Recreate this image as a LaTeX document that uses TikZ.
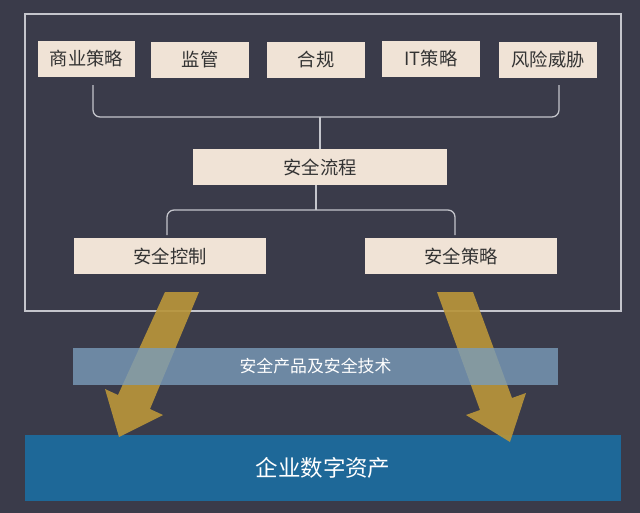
\documentclass[tikz,border=0pt]{standalone}
\usepackage{fontspec}
\setmainfont{Noto Sans CJK SC}
\usetikzlibrary{positioning}
\definecolor{fondo}{HTML}{3A3B4A}
\definecolor{marco}{HTML}{C4C5CC}
\definecolor{caja}{HTML}{F0E3D6}
\definecolor{oro}{HTML}{B8953A}
\definecolor{banda}{HTML}{7A9CBA}
\definecolor{azul}{HTML}{1E6898}
\tikzset{
  tbox/.style={fill=caja, text=black!80, font=\fontsize{13}{15}\selectfont, inner sep=0pt, minimum height=36*0.025cm},
  llave/.style={marco, line width=0.9pt, rounded corners=5pt},
  flecha/.style={fill=oro, opacity=0.92}
}
\begin{document}
\begin{tikzpicture}[x=0.025cm, y=-0.025cm]
        % Fondo y marco
        \fill[fondo] (0,0) rectangle (640,513);
        \useasboundingbox (0,0) rectangle (640,513);
        \draw[marco, line width=1pt] (25,14) rectangle (621,311);
        % Fila superior
        \node[tbox, minimum width=97*0.025cm] (neg) at (86.5,59) {商业策略};
        \node[tbox, minimum width=98*0.025cm] (reg) at (200,60) {监管};
        \node[tbox, minimum width=98*0.025cm] (cum) at (316,60) {合规};
        \node[tbox, minimum width=98*0.025cm] (itp) at (431,59) {IT策略};
        \node[tbox, minimum width=98*0.025cm] (rie) at (548,60) {风险威胁};
        % Nivel medio e inferior
        \node[tbox, minimum width=254*0.025cm] (flu) at (320,167) {安全流程};
        \node[tbox, minimum width=192*0.025cm] (ctl) at (170,256) {安全控制};
        \node[tbox, minimum width=192*0.025cm] (pol) at (461,256) {安全策略};
        % Llaves
        \coordinate (a1) at (93,85);
        \coordinate (a2) at (559,85);
        \draw[llave] (a1) |- (320,117) -| (a2);
        \draw[llave] (320,117) -- (flu.north);
        \coordinate (b1) at (167,235);
        \coordinate (b2) at (455,235);
        \draw[llave] (b1) |- (316,210) -| (b2);
        \draw[llave] (316,210) -- (flu.south -| 316,0);
        % Activos
        \node[fill=azul, text=white, font=\fontsize{16}{18}\selectfont, minimum width=596*0.025cm, minimum height=66*0.025cm, inner sep=0pt] (act) at (323,468) {企业数字资产};
        % Flechas
        \fill[flecha] (165,292) -- (199,292) -- (150,409) -- (163,415) -- (119,437) -- (105,389) -- (118,395) -- cycle;
        \fill[flecha] (437,292) -- (473,292) -- (512,398) -- (526,393) -- (510,442) -- (466,415) -- (480,410) -- cycle;
        % Banda
        \node[fill=banda, fill opacity=0.8, text opacity=1, text=white, font=\fontsize{12}{14}\selectfont, minimum width=485*0.025cm, minimum height=37*0.025cm, inner sep=0pt] (ban) at (315.5,366.5) {安全产品及安全技术};
    \end{tikzpicture}
\end{document}
